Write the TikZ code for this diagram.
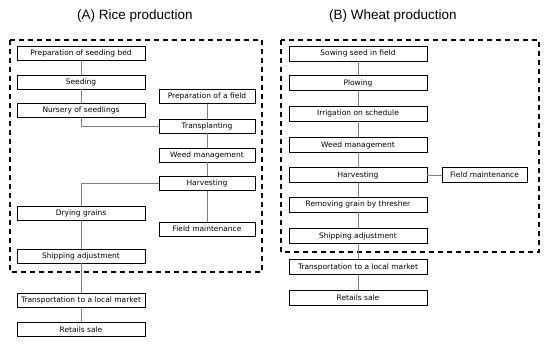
\documentclass[tikz,border=0pt]{standalone}
\usepackage{fontspec}
\setmainfont{DejaVu Sans}
\newfontfamily\titlefont{Liberation Sans}
\begin{document}
\begin{tikzpicture}[x=1pt,y=-1pt,
  stepbox/.style={draw=black,line width=0.8pt,rectangle,inner sep=0pt,font=\fontsize{7.5}{9}\selectfont},
  lbox/.style={stepbox,minimum width=128pt,minimum height=14pt},
  rbox/.style={stepbox,minimum width=96pt,minimum height=14pt},
  wbox/.style={stepbox,minimum width=138pt,minimum height=15pt},
  conn/.style={draw=gray,line width=0.8pt},
  dashbox/.style={draw=black,line width=1.2pt,dash pattern=on 5pt off 4pt},
  ttl/.style={font=\titlefont\fontsize{13.5}{16}\selectfont}]
\useasboundingbox (0,0) rectangle (550,345);
\fill[white] (0,0) rectangle (550,345);
% titles
\node[ttl] (ta) at (135,16) {(A) Rice production};
\node[ttl] (tb) at (393,16) {(B) Wheat production};
% dashed frames
\draw[dashbox] (10,40) rectangle (262,272);
\draw[dashbox] (281,40) rectangle (539,252);
% left panel
\node[lbox] (bed) at (81,53.5) {Preparation of seeding bed};
\node[lbox] (seed) at (81,82) {Seeding};
\node[lbox] (nur) at (81,110.5) {Nursery of seedlings};
\node[rbox] (pf) at (207,96.5) {Preparation of a field};
\node[rbox] (tp) at (207,126) {Transplanting};
\node[rbox] (wm) at (207,155) {Weed management};
\node[rbox] (hv) at (207,183.5) {Harvesting};
\node[rbox] (fm) at (207,229) {Field maintenance};
\node[lbox] (dg) at (81,213) {Drying grains};
\node[lbox] (sa) at (81,256) {Shipping adjustment};
\node[lbox] (tr) at (81,300.5) {Transportation to a local market};
\node[lbox] (rs) at (81,329.5) {Retails sale};
\draw[conn] (bed) -- (seed);
\draw[conn] (seed) -- (nur);
\draw[conn] (nur.south) |- (tp.west);
\draw[conn] (pf) -- (tp);
\draw[conn] (tp) -- (wm);
\draw[conn] (wm) -- (hv);
\draw[conn] (hv) -- (fm);
\draw[conn] (hv.west) -| (dg.north);
\draw[conn] (dg) -- (sa);
\draw[conn] (sa) -- (tr);
\draw[conn] (tr) -- (rs);
% right panel
\node[wbox] (sw) at (358,53.5) {Sowing seed in field};
\node[wbox] (pl) at (358,83) {Plowing};
\node[wbox] (ir) at (358,113.5) {Irrigation on schedule};
\node[wbox] (wm2) at (358,145) {Weed management};
\node[wbox] (hv2) at (358,175) {Harvesting};
\node[stepbox,minimum width=85pt,minimum height=15pt] (fm2) at (484.5,175) {Field maintenance};
\node[wbox] (rg) at (358,204.5) {Removing grain by thresher};
\node[wbox] (sa2) at (358,236) {Shipping adjustment};
\node[wbox] (tr2) at (358,267) {Transportation to a local market};
\node[wbox] (rs2) at (358,297.5) {Retails sale};
\draw[conn] (sw) -- (pl);
\draw[conn] (pl) -- (ir);
\draw[conn] (ir) -- (wm2);
\draw[conn] (wm2) -- (hv2);
\draw[conn] (hv2) -- (fm2);
\draw[conn] (hv2) -- (rg);
\draw[conn] (rg) -- (sa2);
\draw[conn] (sa2) -- (tr2);
\draw[conn] (tr2) -- (rs2);
\end{tikzpicture}
\end{document}
